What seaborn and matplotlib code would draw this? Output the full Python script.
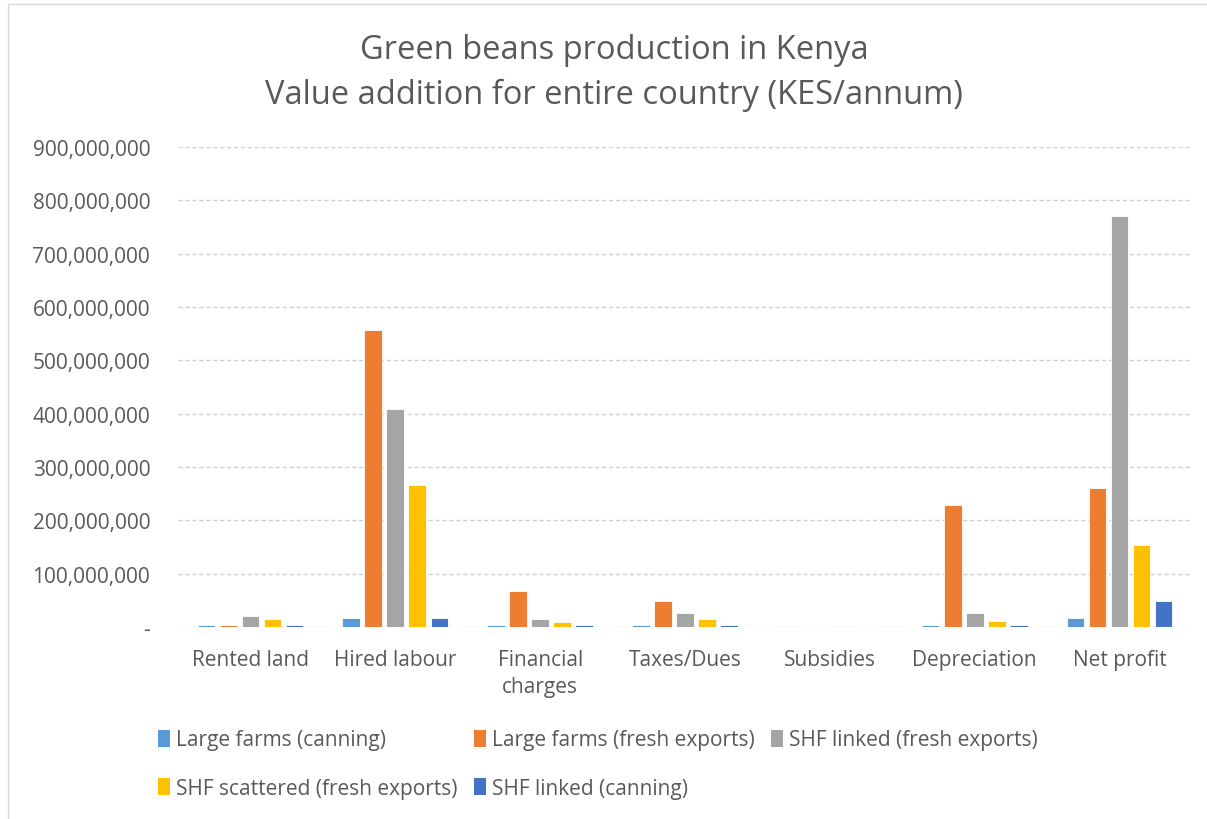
import matplotlib
matplotlib.use("Agg")
import matplotlib.pyplot as plt
import matplotlib.ticker as mticker
from matplotlib.patches import Patch, Rectangle
import seaborn as sns
import pandas as pd

categories = ["Rented land", "Hired labour", "Financial\ncharges", "Taxes/Dues",
              "Subsidies", "Depreciation", "Net profit"]
series_names = ["Large farms (canning)", "Large farms (fresh exports)",
                "SHF linked (fresh exports)", "SHF scattered (fresh exports)",
                "SHF linked (canning)"]
large_canning = [4e6, 16e6, 3e6, 3e6, 0, 3e6, 16e6]
large_fresh = [4e6, 557e6, 68e6, 49e6, 0, 228e6, 261e6]
shf_linked_fresh = [20e6, 409e6, 15e6, 27e6, 0, 27e6, 770e6]
shf_scattered_fresh = [15e6, 267e6, 9e6, 15e6, 0, 12e6, 153e6]
shf_linked_canning = [3e6, 16e6, 3e6, 3e6, 0, 3e6, 49e6]
colors = ["#5B9BD5", "#ED7D31", "#A5A5A5", "#FFC000", "#4472C4"]

all_series = [large_canning, large_fresh, shf_linked_fresh, shf_scattered_fresh, shf_linked_canning]
rows = []
for name, vals in zip(series_names, all_series):
    for cat, v in zip(categories, vals):
        rows.append({"Category": cat, "Series": name, "Value": v})
df = pd.DataFrame(rows)

sns.set_style("white")
plt.rcParams['font.family'] = ['Open Sans', 'DejaVu Sans']
text_color = "#595959"

fig = plt.figure(figsize=(12.07, 8.2), dpi=100)
ax = fig.add_axes([178/1207, 1-628/820, (1192-178)/1207, (628-148)/820])

sns.barplot(data=df, x="Category", y="Value", hue="Series", order=categories,
            hue_order=series_names, palette=colors, width=0.76, gap=0.2,
            ax=ax, legend=False, errorbar=None, saturation=1,
            edgecolor="white", linewidth=0.6)

ax.set_ylim(0, 900e6)
ax.set_xlim(-0.5, 6.5)
ax.yaxis.set_major_locator(mticker.MultipleLocator(100e6))
ax.yaxis.set_major_formatter(mticker.FuncFormatter(
    lambda v, p: "-" if abs(v) < 1 else f"{int(round(v)):,}"))
ax.grid(axis="y", color="#D0D0D0", linestyle=(0, (3, 2)), linewidth=1)
ax.set_axisbelow(True)
for s in ax.spines.values():
    s.set_visible(False)
ax.tick_params(axis="both", length=0, labelsize=15, labelcolor=text_color)
ax.tick_params(axis="y", pad=20)
ax.tick_params(axis="x", pad=16)
for lab in ax.get_xticklabels():
    lab.set_linespacing(1.35)
ax.set_xlabel("")
ax.set_ylabel("")

fig.text(614/1207, 1-73/820, "Green beans production in Kenya\nValue addition for entire country (KES/annum)",
         ha="center", va="center", fontsize=23.5, color=text_color, linespacing=1.43)

handles = [Patch(facecolor=c, edgecolor="none") for c in colors]
order = [0, 3, 1, 4, 2]
fig.legend([handles[i] for i in order], [series_names[i] for i in order],
           ncol=3, loc="center left", bbox_to_anchor=(150/1207, 1-765/820),
           frameon=False, fontsize=15, labelcolor=text_color,
           handlelength=0.55, handleheight=0.85, handletextpad=0.3,
           columnspacing=0.8, labelspacing=1.3, borderaxespad=0)

fig.patches.append(Rectangle((8/1207, -0.01), 1.01, 1.01 - 5/820, transform=fig.transFigure,
                             fill=False, edgecolor="#D9D9D9", linewidth=1))

fig.savefig("out.png", dpi=100, facecolor="white")
